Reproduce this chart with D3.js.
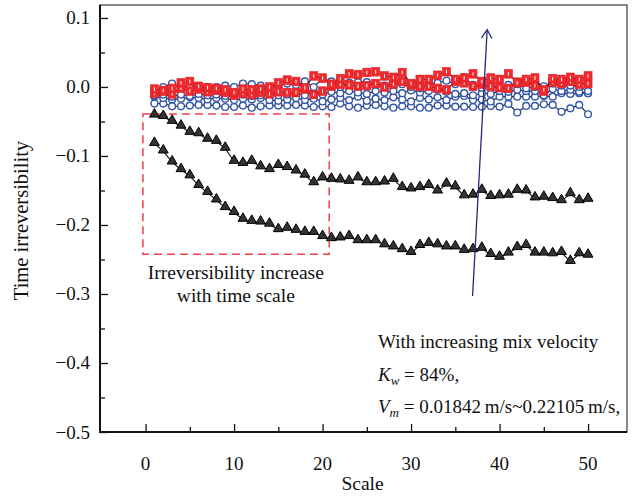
<!DOCTYPE html>
<html>
<head>
<meta charset="utf-8">
<script src="https://cdn.jsdelivr.net/npm/d3@7"></script>
<style>
  body { margin: 0; background: #fff; }
  text { font-family: "Liberation Serif", "Times New Roman", serif; fill: #111; }
</style>
</head>
<body>
<div id="chart"></div>
<script>
// scale index 1..50
var scales = d3.range(1, 51);

var xTicks = [0, 10, 20, 30, 40, 50];
var yTicks = [0.1, 0.0, -0.1, -0.2, -0.3, -0.4, -0.5];

var redTop = [-0.003, -0.005, -0.002, 0.006, 0.008, 0.001, -0.001, -0.002, -0.004, -0.008,
    -0.003, -0.004, -0.003, 0.000, 0.006, 0.010, 0.008, -0.001, 0.016, 0.013,
    0.004, 0.012, 0.019, 0.018, 0.021, 0.022, 0.016, 0.014, 0.021, 0.005,
    0.011, 0.011, 0.017, 0.022, 0.011, 0.013, 0.019, 0.008, 0.013, 0.011,
    0.019, 0.006, 0.011, 0.013, -0.004, 0.012, 0.011, 0.014, 0.011, 0.016];

var redLow = [-0.009, -0.006, -0.010, -0.002, -0.006, -0.003, -0.007, -0.005, -0.008, -0.012,
    -0.009, -0.011, -0.008, -0.010, -0.007, -0.008, -0.008, -0.003, -0.011, -0.006,
    0.001, 0.004, 0.003, 0.001, 0.002, 0.005, 0.000, 0.004, 0.008, 0.003,
    0.001, 0.001, -0.002, -0.004, 0.008, 0.006, 0.001, 0.004, 0.001, -0.001,
    -0.002, 0.007, 0.007, 0.002, -0.006, 0.007, 0.005, 0.008, 0.004, 0.005];

var blueA = [-0.012, 0.000, 0.005, -0.001, 0.002, 0.000, 0.000, 0.000, 0.002, 0.000,
    0.005, 0.004, 0.002, 0.000, 0.002, 0.005, 0.003, 0.008, 0.000, 0.012,
    0.008, 0.000, 0.006, 0.007, 0.007, 0.004, 0.002, 0.005, 0.004, 0.000,
    -0.002, 0.003, 0.006, 0.009, 0.004, 0.014, 0.003, -0.001, 0.002, 0.000,
    0.003, 0.004, -0.002, 0.000, 0.001, 0.005, 0.002, 0.002, 0.000, -0.006];

var blueB = [-0.013, -0.011, -0.014, -0.011, -0.013, -0.010, -0.012, -0.011, -0.013, -0.012,
    -0.011, -0.013, -0.012, -0.010, -0.012, -0.011, -0.009, -0.012, -0.008, -0.011,
    -0.007, -0.009, -0.006, -0.008, -0.010, -0.006, -0.008, -0.006, -0.009, -0.005,
    -0.008, -0.006, -0.004, -0.007, -0.010, -0.009, -0.012, -0.009, -0.010, -0.006,
    -0.007, -0.004, -0.006, -0.006, -0.012, -0.003, -0.006, -0.004, -0.007, -0.009];

var blueC = [-0.014, -0.016, -0.018, -0.017, -0.015, -0.016, -0.018, -0.016, -0.017, -0.019,
    -0.017, -0.018, -0.016, -0.019, -0.020, -0.018, -0.016, -0.019, -0.017, -0.021,
    -0.018, -0.016, -0.019, -0.014, -0.020, -0.017, -0.019, -0.015, -0.018, -0.021,
    -0.016, -0.018, -0.015, -0.019, -0.014, -0.013, -0.019, -0.018, -0.021, -0.014,
    -0.014, -0.014, -0.014, -0.014, -0.013, -0.014, -0.009, -0.010, -0.009, -0.009];

var blueD = [-0.024, -0.024, -0.028, -0.028, -0.027, -0.026, -0.026, -0.027, -0.029, -0.029,
    -0.027, -0.030, -0.028, -0.027, -0.027, -0.027, -0.026, -0.027, -0.029, -0.028,
    -0.029, -0.024, -0.028, -0.030, -0.027, -0.026, -0.028, -0.030, -0.028, -0.028,
    -0.030, -0.030, -0.027, -0.027, -0.0285, -0.0285, -0.029, -0.0285, -0.0275, -0.0285,
    -0.0245, -0.037, -0.0275, -0.0275, -0.025, -0.026, -0.036, -0.031, -0.026, -0.0395];

var triUpper = [-0.041, -0.043, -0.050, -0.057, -0.066, -0.068, -0.076, -0.079, -0.089, -0.108,
    -0.111, -0.108, -0.116, -0.120, -0.114, -0.117, -0.122, -0.128, -0.139, -0.132,
    -0.134, -0.135, -0.137, -0.132, -0.139, -0.139, -0.138, -0.134, -0.146, -0.148,
    -0.146, -0.143, -0.151, -0.141, -0.145, -0.158, -0.157, -0.150, -0.159, -0.158,
    -0.157, -0.150, -0.151, -0.161, -0.160, -0.162, -0.165, -0.155, -0.165, -0.163];

var triLower = [-0.082, -0.093, -0.109, -0.120, -0.129, -0.143, -0.153, -0.164, -0.175, -0.182,
    -0.192, -0.195, -0.196, -0.199, -0.207, -0.205, -0.208, -0.211, -0.211, -0.217,
    -0.220, -0.219, -0.217, -0.223, -0.223, -0.223, -0.229, -0.232, -0.236, -0.240,
    -0.230, -0.227, -0.229, -0.232, -0.232, -0.237, -0.236, -0.234, -0.243, -0.247,
    -0.241, -0.233, -0.230, -0.241, -0.241, -0.242, -0.240, -0.253, -0.242, -0.244];

// dashed box + arrow, in data units
var boxX = [-0.3, 20.75];
var boxY = [-0.039, -0.2425];
var arrowFrom = [36.95, -0.303];
var arrowTo = [38.6, 0.083];

var margin = { top: 5, right: 9, bottom: 64, left: 100 },
    width = 636 - margin.left - margin.right,
    height = 496 - margin.top - margin.bottom;

var svg = d3.select("#chart").append("svg")
    .attr("width", 636)
    .attr("height", 496)
    .append("g")
    .attr("transform", "translate(" + margin.left + "," + margin.top + ")");

var x = d3.scaleLinear().domain([-5.15, 54.4]).range([0, width]);
var y = d3.scaleLinear().domain([-0.5, 0.1188]).range([height, 0]);

var fmt = function(d) { return d3.format(".1f")(d).replace("-", "\u2212"); };

// ticks (inside)
var xAxis = d3.axisBottom(x).tickValues(d3.range(0, 55, 5))
    .tickSize(-8).tickFormat("");
var gx = svg.append("g").attr("transform", "translate(0," + height + ")").call(xAxis);
gx.selectAll(".tick line").attr("y2", function(d) { return d % 10 === 0 ? -8 : -5; });

var yAxis = d3.axisLeft(y).tickValues(d3.range(-10, 3).map(function(i) { return i * 0.05; }))
    .tickSize(-8).tickFormat("");
var gy = svg.append("g").call(yAxis);
gy.selectAll(".tick line").attr("x2", function(d, i) { return i % 2 === 0 ? 8 : 5; });

svg.selectAll(".domain").remove();
svg.selectAll(".tick line").attr("stroke", "#111").attr("stroke-width", 1.3);

svg.selectAll(".xlab").data(xTicks).enter().append("text")
    .attr("x", function(d) { return x(d); })
    .attr("y", height + 38)
    .attr("text-anchor", "middle")
    .style("font-size", "19px")
    .text(function(d) { return d; });

svg.selectAll(".ylab").data(yTicks).enter().append("text")
    .attr("x", -10)
    .attr("y", function(d) { return y(d) + 6.5; })
    .attr("text-anchor", "end")
    .style("font-size", "19px")
    .text(fmt);

// frame
svg.append("rect")
    .attr("width", width).attr("height", height)
    .attr("fill", "none").attr("stroke", "#555").attr("stroke-width", 1.4);
svg.append("path")
    .attr("d", "M0,0V" + height + "H" + width)
    .attr("fill", "none").attr("stroke", "#111").attr("stroke-width", 2);

// axis titles
svg.append("text")
    .attr("x", (x(54.4) + x(-5.15)) / 2 - 1)
    .attr("y", height + 58)
    .attr("text-anchor", "middle")
    .style("font-size", "19.5px")
    .text("Scale");

svg.append("text")
    .attr("transform", "translate(" + (-72) + "," + (height / 2 + 2) + ") rotate(-90)")
    .attr("text-anchor", "middle")
    .style("font-size", "20.5px")
    .text("Time irreversibility");

// dashed box
svg.append("rect")
    .attr("x", x(boxX[0])).attr("y", y(boxY[0]))
    .attr("width", x(boxX[1]) - x(boxX[0]))
    .attr("height", y(boxY[1]) - y(boxY[0]))
    .attr("fill", "none")
    .attr("stroke", "#ee4048")
    .attr("stroke-width", 1.5)
    .attr("stroke-dasharray", "8,5");

var line = d3.line()
    .x(function(d, i) { return x(scales[i]); })
    .y(function(d) { return y(d); });

function drawLine(vals) {
    svg.append("path")
        .attr("d", line(vals))
        .attr("fill", "none")
        .attr("stroke", "#111")
        .attr("stroke-width", 1.1);
}

var tri = d3.symbol().type(d3.symbolTriangle).size(42);

[triUpper, triLower].forEach(function(vals) {
    drawLine(vals);
    svg.append("g").selectAll("path").data(vals).enter().append("path")
        .attr("d", tri)
        .attr("transform", function(d, i) { return "translate(" + x(scales[i]) + "," + (y(d) - 1) + ")"; })
        .attr("fill", "#333")
        .attr("stroke", "#000")
        .attr("stroke-width", 1);
});

[blueD, blueC, blueB, blueA].forEach(function(vals) {
    drawLine(vals);
    svg.append("g").selectAll("circle").data(vals).enter().append("circle")
        .attr("cx", function(d, i) { return x(scales[i]); })
        .attr("cy", function(d) { return y(d); })
        .attr("r", 3.4)
        .attr("fill", "#fff")
        .attr("stroke", "#3456a8")
        .attr("stroke-width", 1.4);
});

[redLow, redTop].forEach(function(vals) {
    drawLine(vals);
    var g = svg.append("g").selectAll("g").data(vals).enter().append("g")
        .attr("transform", function(d, i) { return "translate(" + x(scales[i]) + "," + y(d) + ")"; });
    g.append("rect")
        .attr("x", -4).attr("y", -4.3)
        .attr("width", 8).attr("height", 8.6)
        .attr("fill", "#ee2a2e")
        .attr("stroke", "#e01d22")
        .attr("stroke-width", 0.6);
    g.append("line")
        .attr("x1", 0).attr("x2", 0).attr("y1", -1.8).attr("y2", 1.8)
        .attr("stroke", "#fff").attr("stroke-width", 1);
});

// arrow
var ax1 = x(arrowFrom[0]), ay1 = y(arrowFrom[1]), ax2 = x(arrowTo[0]), ay2 = y(arrowTo[1]);
svg.append("line")
    .attr("x1", ax1).attr("y1", ay1).attr("x2", ax2).attr("y2", ay2)
    .attr("stroke", "#262a78").attr("stroke-width", 1.3);
var ang = Math.atan2(ay1 - ay2, ax1 - ax2);
var hl = 10, spread = 0.55;
svg.append("path")
    .attr("d", "M" + (ax2 + hl * Math.cos(ang + spread)) + "," + (ay2 + hl * Math.sin(ang + spread)) +
        "L" + ax2 + "," + ay2 +
        "L" + (ax2 + hl * Math.cos(ang - spread)) + "," + (ay2 + hl * Math.sin(ang - spread)))
    .attr("fill", "none").attr("stroke", "#262a78").attr("stroke-width", 1.3);

// box caption
var cap = svg.append("text")
    .attr("text-anchor", "middle")
    .style("font-size", "19.5px");
cap.append("tspan").attr("x", x(10.2)).attr("y", 279 - margin.top).text("Irreversibility increase");
cap.append("tspan").attr("x", x(10.2)).attr("y", 302 - margin.top).text("with time scale");

// condition note
var note = svg.append("g").attr("transform", "translate(" + (378 - margin.left) + ",0)")
    .style("font-size", "19px");
note.append("text").attr("y", 348 - margin.top).text("With increasing mix velocity");
var k = note.append("text").attr("y", 381 - margin.top);
k.append("tspan").style("font-style", "italic").text("K");
k.append("tspan").style("font-style", "italic").style("font-size", "13px").attr("dy", 4).text("w");
k.append("tspan").attr("dy", -4).text(" = 84%,");
var v = note.append("text").attr("y", 413 - margin.top);
v.append("tspan").style("font-style", "italic").text("V");
v.append("tspan").style("font-style", "italic").style("font-size", "13px").attr("dy", 4).text("m");
v.append("tspan").attr("dy", -4).text(" = 0.01842\u2009m/s~0.22105\u2009m/s,");
</script>
</body>
</html>
